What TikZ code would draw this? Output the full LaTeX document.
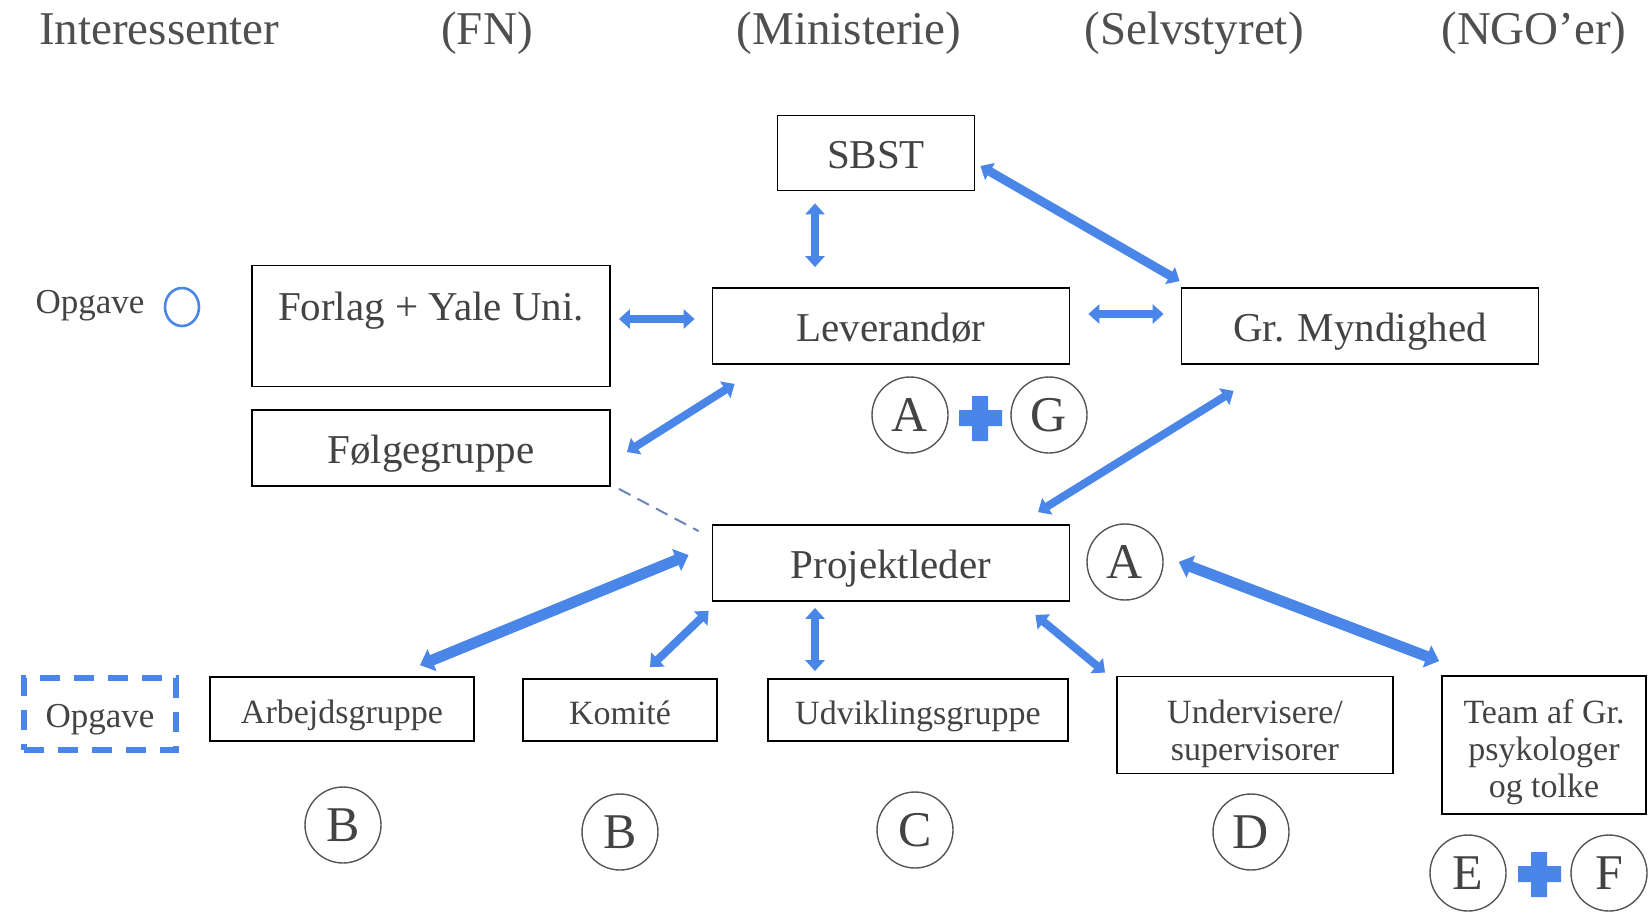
\documentclass[tikz,border=0pt]{standalone}
\usepackage{fontspec}
\setmainfont{Liberation Serif}
\usetikzlibrary{arrows.meta,calc,shapes.geometric}

\definecolor{linkblue}{HTML}{4A86E8}
\definecolor{txtgray}{HTML}{434343}
\definecolor{hdrgray}{HTML}{4F4F4F}
\definecolor{ringgray}{HTML}{555555}
\definecolor{dashgray}{HTML}{6A86B8}

\tikzset{
  box/.style={draw=black, line width=1.8pt, text=txtgray, inner sep=0pt, text height=40pt, text depth=9pt, font=\fontsize{41}{46}\selectfont},
  smallbox/.style={draw=black, line width=1.8pt, text=txtgray, inner sep=0pt, text height=37pt, text depth=8pt, font=\fontsize{34}{37}\selectfont},
  tallbox/.style={draw=black, line width=1.8pt, text=txtgray, inner sep=0pt, align=center, font=\fontsize{34}{37}\selectfont},
  header/.style={text=hdrgray, inner sep=0pt, anchor=base, font=\fontsize{47}{50}\selectfont},
  ring/.style={circle, draw=ringgray, line width=1.4pt, minimum size=76pt, inner sep=0pt, text=txtgray, font=\fontsize{50}{52}\selectfont},
  link/.style={draw=linkblue, line width=8pt, {Triangle[length=11pt,width=19pt]}-{Triangle[length=11pt,width=19pt]}},
  heavylink/.style={draw=linkblue, line width=11pt, {Triangle[length=13pt,width=23pt]}-{Triangle[length=13pt,width=23pt]}}
}

\begin{document}
\begin{tikzpicture}[x=1pt,y=1pt,yscale=-1,xscale=1]
        \useasboundingbox (0,0) rectangle (1648,913);

        % Header Text
        \node (hdrInt) [header, anchor=base west] at (39,44) {Interessenter};
        \node (hdrFN) [header] at (487,44) {(FN)};
        \node (hdrMin) [header] at (849,44) {(Ministerie)};
        \node (hdrSelv) [header] at (1194,44) {(Selvstyret)};
        \node (hdrNGO) [header] at (1534,44) {(NGO’er)};

        % Legend
        \node (legTxt) [text=txtgray, inner sep=0pt, font=\fontsize{35}{37}\selectfont] at (90,306) {Opgave};
        \node (legRing) [ellipse, draw=linkblue, line width=2.6pt, minimum width=34pt, minimum height=38pt, inner sep=0pt] at (182,307) {};
        \node (task) [draw=linkblue, line width=6pt, dash pattern=on 20pt off 14pt, minimum width=152pt, minimum height=72pt, text height=35pt, text depth=8pt, inner sep=0pt, text=txtgray, font=\fontsize{35}{37}\selectfont] at (100,714) {Opgave};

        % Boxes
        \node (sbst) [box, minimum width=197pt, minimum height=75pt] at (876,153) {SBST};
        \node (forlag) [box, minimum width=358pt, minimum height=121pt, text depth=51pt] at (431,326) {Forlag + Yale Uni.};
        \node (lev) [box, minimum width=357pt, minimum height=76pt] at (891,326) {Leverandør};
        \node (grm) [box, minimum width=357pt, minimum height=76pt] at (1360,326) {Gr. Myndighed};
        \node (folge) [box, minimum width=358pt, minimum height=76pt] at (431,448) {Følgegruppe};
        \node (proj) [box, minimum width=357pt, minimum height=76pt] at (891,563) {Projektleder};
        \node (arb) [smallbox, minimum width=264pt, minimum height=64pt] at (342,709) {Arbejdsgruppe};
        \node (kom) [smallbox, minimum width=194pt, minimum height=62pt] at (620,710) {Komité};
        \node (udv) [smallbox, minimum width=300pt, minimum height=62pt] at (918,710) {Udviklingsgruppe};
        \node (und) [tallbox, minimum width=276pt, minimum height=97pt] at (1255,725) {\rule{0pt}{41pt}Undervisere/\\supervisorer};
        \node (team) [tallbox, minimum width=204pt, minimum height=138pt] at (1544,745) {\rule{0pt}{39pt}Team af Gr.\\psykologer\\og tolke};

        % Letter Circles
        \node (cA1) [ring] at (910,415) {A};
        \node (cG) [ring] at (1049,415) {G};
        \node (cA2) [ring] at (1125,562) {A};
        \node (cB1) [ring] at (343,825) {B};
        \node (cB2) [ring] at (620,832) {B};
        \node (cC) [ring] at (915,830) {C};
        \node (cD) [ring] at (1251,832) {D};
        \node (cE) [ring] at (1468,873) {E};
        \node (cF) [ring] at (1609,873) {F};

        % Plus Signs
        \fill [linkblue] (972,396) rectangle (988,441) (959,410) rectangle (1002,426);
        \fill [linkblue] (1531,852) rectangle (1547,897) (1518,866) rectangle (1561,882);

        % Connectors
        \draw [link] ($(sbst.south)+(-61,12)$) -- ($(lev.north)+(-76,-20)$);
        \draw [link, line width=9pt] ($(sbst.east)+(5,13)$) -- ($(grm.north west)+(-1,-6)$);
        \draw [link] ($(forlag.east)+(8,-7)$) -- ($(lev.west)+(-17,-7)$);
        \draw [link] ($(lev.east)+(18,-12)$) -- ($(grm.west)+(-17,-12)$);
        \draw [link] ($(folge.east)+(16,4)$) -- ($(lev.south west)+(23,19)$);
        \draw [link] ($(grm.south west)+(53,26)$) -- ($(proj.north)+(147,-12)$);
        \draw [dashgray, line width=2pt, dash pattern=on 13pt off 8pt] ($(folge.south east)+(8,2)$) -- ($(proj.north west)+(-13,7)$);
        \draw [heavylink] ($(proj.west)+(-23,-8)$) -- ($(arb.north)+(78,-11)$);
        \draw [link] ($(proj.south west)+(-3,9)$) -- ($(kom.north)+(30,-11)$);
        \draw [link] ($(proj.south)+(-76,6)$) -- ($(udv.north)+(-103,-7)$);
        \draw [link] ($(proj.south east)+(-35,13)$) -- ($(und.north west)+(-11,-3)$);
        \draw [heavylink] ($(cA2.east)+(15,0)$) -- ($(team.north west)+(-2,-14)$);
\end{tikzpicture}
\end{document}
